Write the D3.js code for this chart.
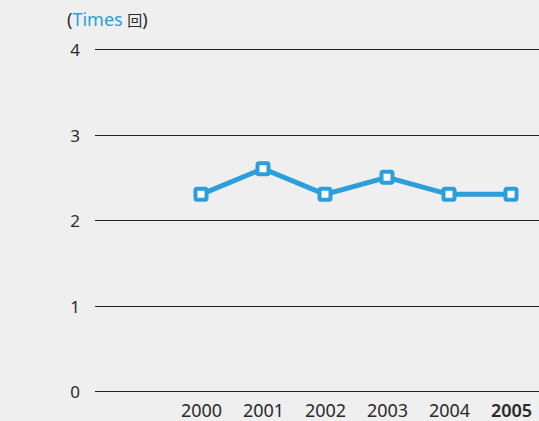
<!DOCTYPE html>
<html>
<head>
<meta charset="utf-8">
<script src="https://cdn.jsdelivr.net/npm/d3@7"></script>
<style>
  body { margin: 0; background: #efefef; }
  svg { display: block; font-family: "Noto Sans", sans-serif; }
</style>
</head>
<body>
<div id="chart"></div>
<script>
// chart data
var years = ["2000", "2001", "2002", "2003", "2004", "2005"];
var times = [2.3, 2.6, 2.3, 2.5, 2.3, 2.3];
var yTicks = [0, 1, 2, 3, 4];

var width = 539;
var height = 421;

var svg = d3.select("#chart")
    .append("svg")
    .attr("width", width)
    .attr("height", height);

// scales
var x = d3.scalePoint()
    .domain(years)
    .range([201, 511]);

var y = d3.scaleLinear()
    .domain([0, 4])
    .range([391, 49]);

// grid lines + y labels
var yAxis = svg.append("g")
    .attr("transform", "translate(95,0.5)")
    .call(d3.axisRight(y).tickValues(yTicks).tickSize(width - 95).tickFormat(""));
yAxis.select(".domain").remove();
yAxis.selectAll(".tick").attr("transform", function(d) { return "translate(0," + Math.round(y(d)) + ")"; });
yAxis.selectAll(".tick line").attr("stroke", "#222").attr("stroke-width", 1).attr("shape-rendering", "crispEdges");

svg.selectAll(".ylab")
    .data(yTicks)
    .enter().append("text")
    .attr("class", "ylab")
    .attr("x", 75)
    .attr("y", function(d) { return y(d) + 7; })
    .attr("text-anchor", "middle")
    .attr("font-size", 17)
    .attr("fill", "#2a2a2a")
    .text(function(d) { return d; });

// x labels
var xAxis = svg.append("g")
    .attr("transform", "translate(0,391)")
    .call(d3.axisBottom(x).tickSize(0).tickPadding(13));
xAxis.select(".domain").remove();
xAxis.selectAll("text")
    .attr("font-size", 18)
    .attr("font-family", "\"Noto Sans\", sans-serif")
    .attr("fill", "#2a2a2a")
    .attr("font-weight", function(d) { return d === "2005" ? 600 : "normal"; });

// unit label
var unit = svg.append("text")
    .attr("x", 67)
    .attr("y", 26)
    .attr("font-size", 18)
    .attr("fill", "#2a2a2a");
unit.append("tspan").text("(");
unit.append("tspan").attr("fill", "#2b9fdb").text("Times ");
unit.append("tspan").attr("font-family", "\"Noto Sans CJK JP\", sans-serif").attr("font-size", 15).text("回");
unit.append("tspan").text(")");

// line
var line = d3.line()
    .x(function(d, i) { return x(years[i]); })
    .y(function(d) { return y(d); });

svg.append("path")
    .datum(times)
    .attr("fill", "none")
    .attr("stroke", "#2b9fdb")
    .attr("stroke-width", 5)
    .attr("d", line);

// square markers
svg.selectAll(".pt")
    .data(times)
    .enter().append("rect")
    .attr("class", "pt")
    .attr("x", function(d, i) { return x(years[i]) - 5.5; })
    .attr("y", function(d) { return y(d) - 5.5; })
    .attr("width", 11)
    .attr("height", 11)
    .attr("rx", 1.5)
    .attr("fill", "#fff")
    .attr("stroke", "#2b9fdb")
    .attr("stroke-width", 4);
</script>
</body>
</html>
